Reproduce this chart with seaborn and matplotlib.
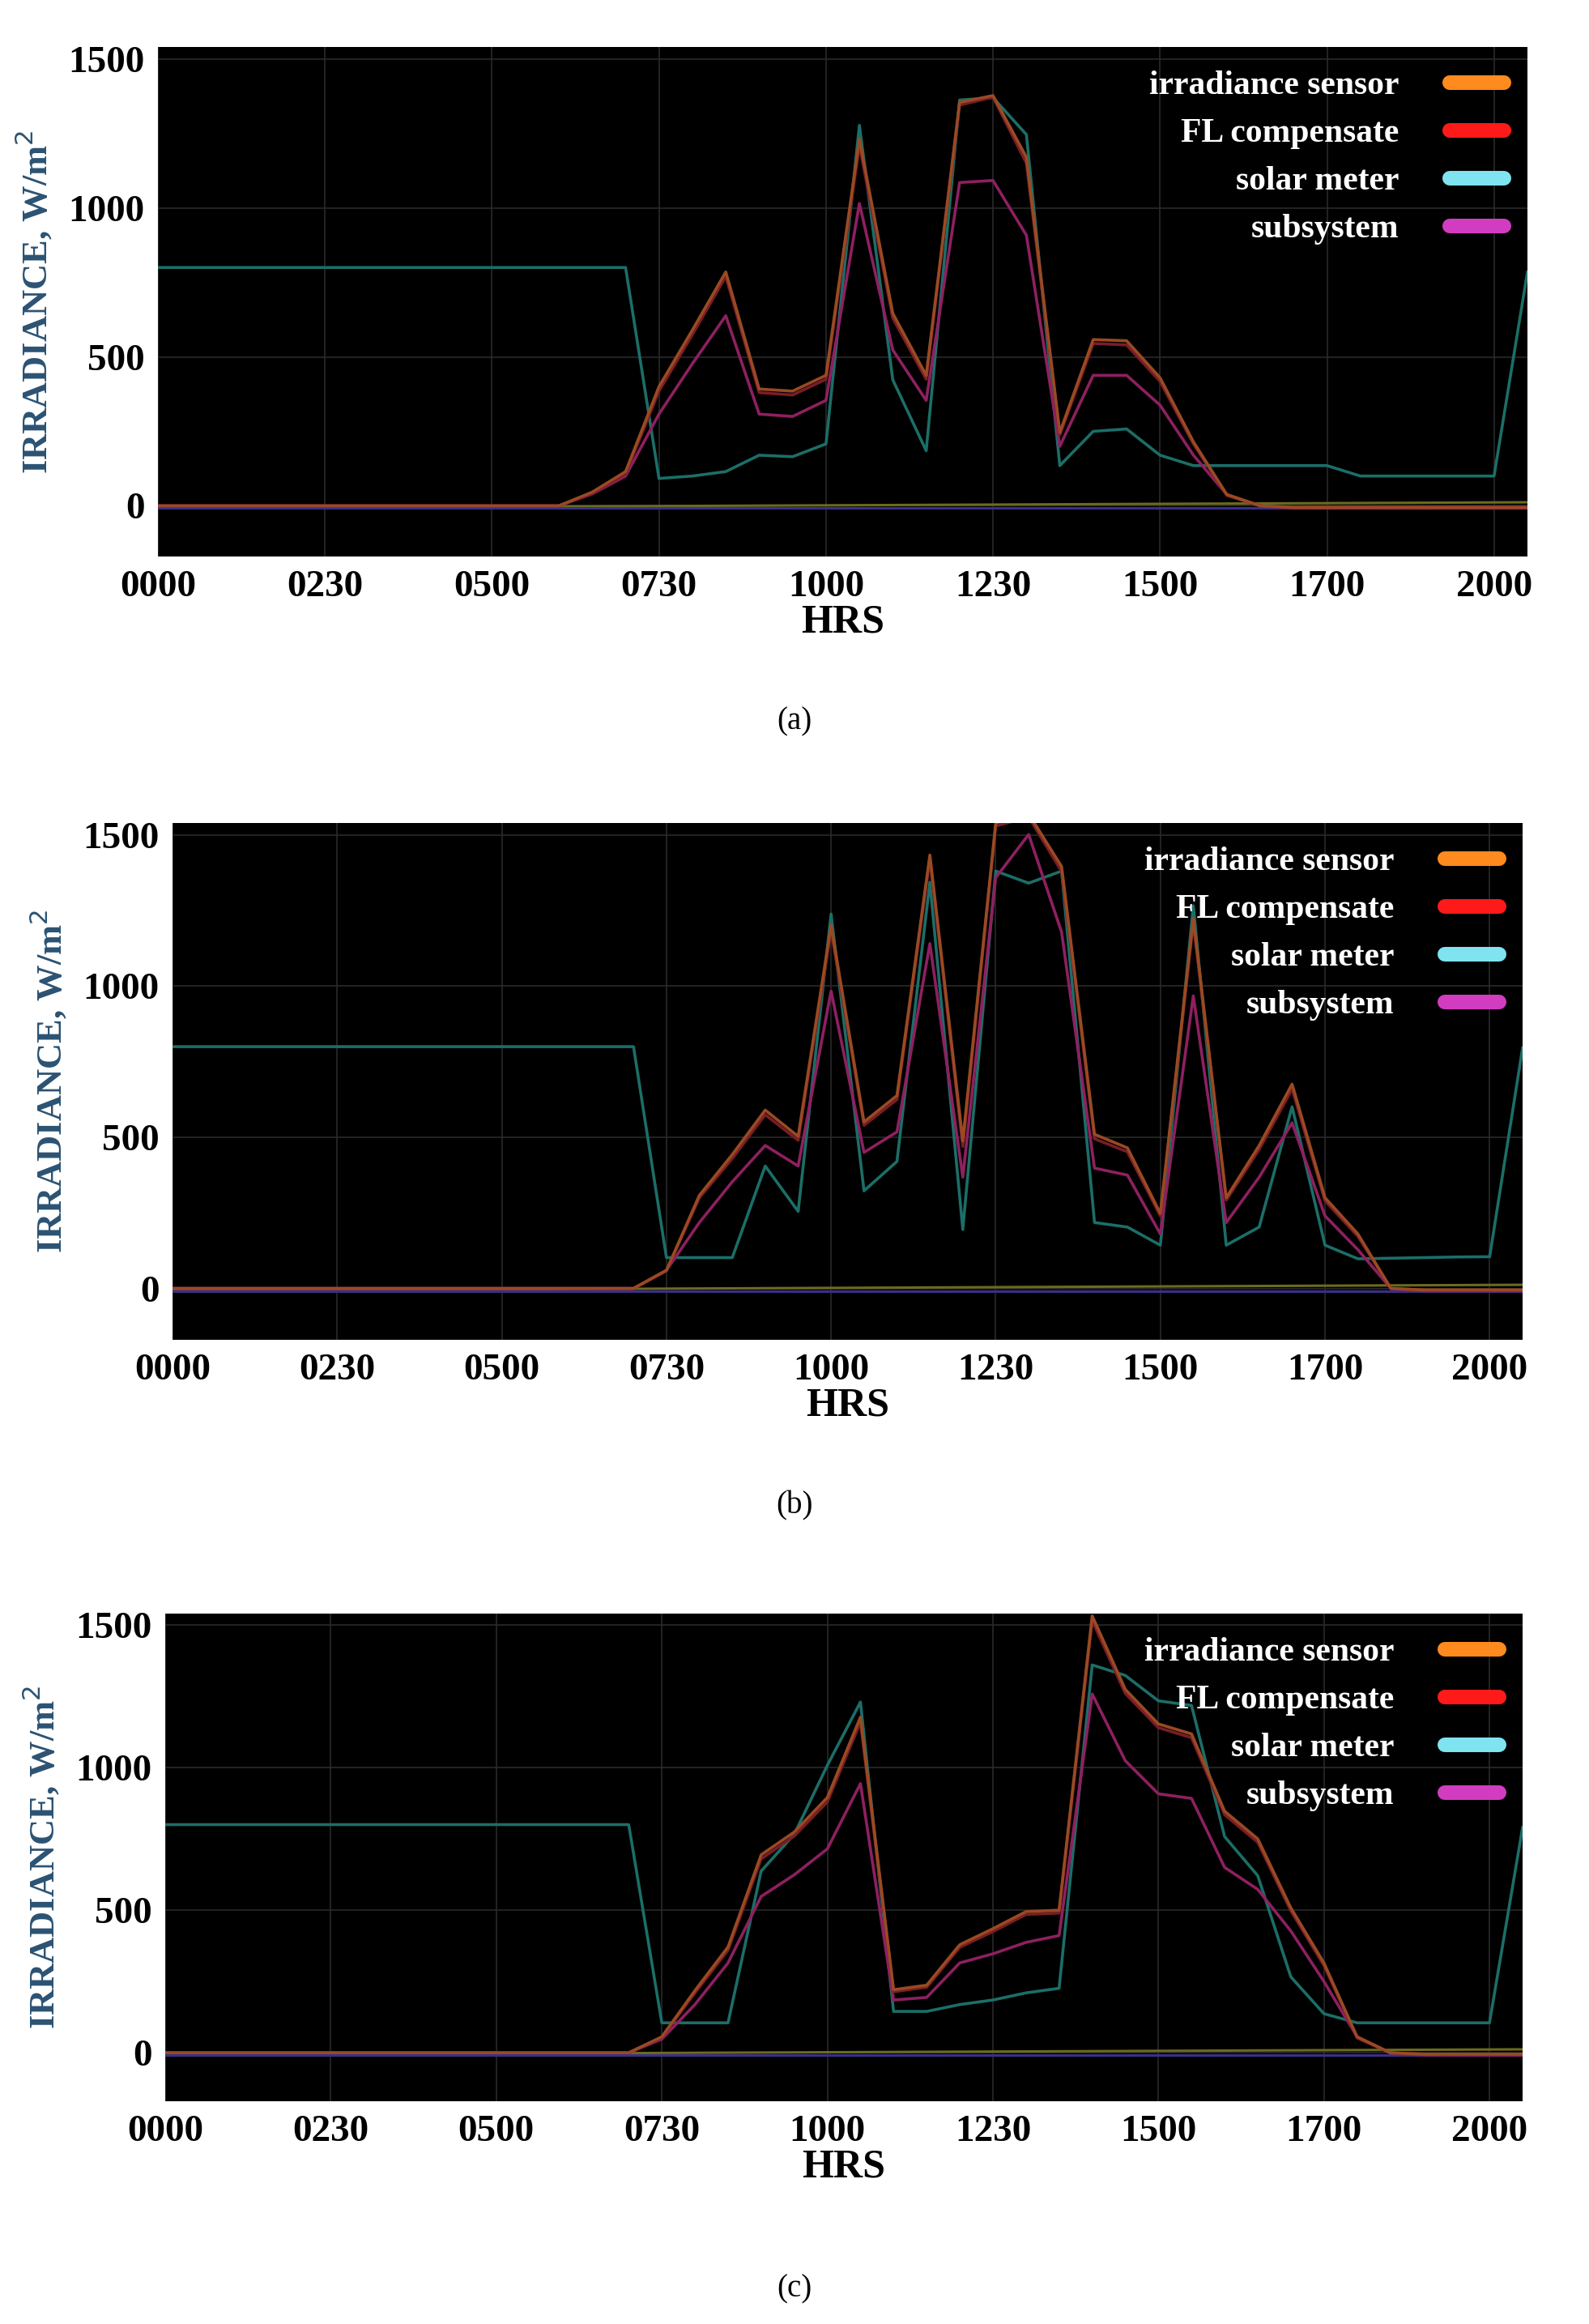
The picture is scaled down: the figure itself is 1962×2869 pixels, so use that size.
import numpy as np
import pandas as pd
import matplotlib
matplotlib.use("Agg")
import matplotlib.pyplot as plt
import seaborn as sns
from matplotlib.lines import Line2D

# ---------------- data ----------------
tick_labels = ["0000", "0230", "0500", "0730", "1000", "1230", "1500", "1700", "2000"]
series_names = ["irradiance sensor", "FL compensate", "solar meter", "subsystem"]

night = [800] * 15
# panel (a)
a_solar = night + [92, 100, 115, 170, 165, 208, 1277, 423, 185, 1362, 1370, 1246, 135, 250, 258,
                   170, 135, 135, 135, 135, 135, 100, 100, 100, 100, 100, 785]
a_sensor = [0] * 13 + [46, 115, 400, 590, 785, 392, 385, 438, 1230, 646, 438, 1354, 1377, 1170, 246,
                       558, 554, 430, 215, 38, 0] + [-5] * 8
a_fl = [0] * 13 + [42, 108, 385, 575, 770, 380, 372, 425, 1210, 630, 425, 1345, 1372, 1150, 238,
                   545, 540, 418, 208, 35, 0] + [-5] * 8
a_sub = [0] * 13 + [40, 100, 308, 477, 638, 308, 300, 354, 1015, 523, 354, 1085, 1092, 908, 200,
                    438, 438, 338, 170, 38, 0] + [-8] * 8
# panel (b)
b_solar = night + [102, 102, 102, 405, 255, 1239, 323, 420, 1344, 195, 1381, 1341, 1381, 218, 203,
                   143, 1266, 143, 203, 601, 143, 98, 100, 102, 104, 105, 796]
b_sensor = [0] * 15 + [60, 308, 443, 590, 503, 1201, 551, 638, 1434, 488, 1540, 1570, 1396, 510, 465,
                       248, 1224, 300, 473, 676, 300, 180, 0] + [-5] * 4
b_fl = [0] * 15 + [58, 300, 430, 575, 490, 1185, 540, 625, 1420, 470, 1530, 1560, 1380, 495, 452,
                   240, 1210, 292, 460, 660, 290, 172, 0] + [-5] * 4
b_sub = [0] * 15 + [60, 218, 353, 473, 405, 984, 450, 518, 1141, 368, 1359, 1502, 1179, 398, 375,
                    180, 968, 218, 368, 548, 240, 128, 0] + [-8] * 4
# panel (c)
c_solar = night + [105, 105, 105, 637, 766, 1008, 1230, 145, 145, 169, 185, 210, 226, 1360, 1323,
                   1234, 1218, 758, 621, 266, 137, 105, 105, 105, 105, 105, 790]
c_sensor = [0] * 15 + [56, 218, 371, 694, 774, 895, 1177, 221, 237, 379, 435, 495, 500, 1532, 1274,
                       1153, 1118, 847, 750, 508, 315, 56, 0] + [-5] * 4
c_fl = [0] * 15 + [54, 210, 360, 680, 760, 880, 1160, 214, 230, 370, 425, 485, 490, 1515, 1260,
                   1140, 1105, 835, 738, 498, 306, 52, 0] + [-5] * 4
c_sub = [0] * 15 + [48, 169, 315, 548, 624, 715, 944, 185, 194, 315, 347, 387, 411, 1258, 1024,
                    908, 892, 650, 573, 427, 250, 56, 0] + [-8] * 4

base_x = [0, 8.2]
olive_base = [-8, 12]
blue_base = [-8, -8]

panels = [("(a)", a_sensor, a_fl, a_solar, a_sub),
          ("(b)", b_sensor, b_fl, b_solar, b_sub),
          ("(c)", c_sensor, c_fl, c_solar, c_sub)]

line_colors = {"irradiance sensor": "#9a4a22", "FL compensate": "#7a1d28",
               "solar meter": "#1c6e68", "subsystem": "#8e2060"}
legend_colors = ["#ff8a1e", "#ff1a1a", "#7fe3f0", "#d23cc0"]

# ---------------- figure ----------------
W, H = 1962, 2869
fig = plt.figure(figsize=(W / 100, H / 100), dpi=100)
fig.patch.set_facecolor("white")
boxes = [(195, 58, 1886, 687), (213, 1016, 1880, 1654), (204, 1992, 1880, 2594)]
label_y = [891, 1859, 2826]
serif = "Liberation Serif"

for (tag, sen, fl, sol, sub), (l, t, r, b), ly in zip(panels, boxes, label_y):
    ax = fig.add_axes([l / W, 1 - b / H, (r - l) / W, (b - t) / H])
    ax.set_facecolor("black")
    n = len(sol)
    x = np.arange(n) * 0.2
    df = pd.DataFrame({"x": np.tile(x, 4),
                       "val": np.concatenate([sen, fl, sol, sub]),
                       "series": np.repeat(series_names, n)})
    ax.plot(base_x, olive_base, color="#6b6b1e", lw=2.2)
    ax.plot(base_x, blue_base, color="#3a2f8a", lw=2.2)
    sns.lineplot(data=df, x="x", y="val", hue="series", palette=line_colors,
                 hue_order=["solar meter", "subsystem", "FL compensate", "irradiance sensor"],
                 linewidth=2.6, legend=False, ax=ax, sort=False)
    ax.set_xlim(0, 8.2)
    ax.set_ylim(-170, 1540)
    ax.set_xticks(range(9))
    ax.set_xticklabels(tick_labels, fontfamily=serif, fontweight="bold", fontsize=34)
    ax.set_yticks([0, 500, 1000, 1500])
    ax.set_yticklabels(["0", "500", "1000", "1500"], fontfamily=serif, fontweight="bold", fontsize=34)
    ax.tick_params(length=0, pad=12)
    ax.grid(True, color="#2a2a2a", lw=1.2)
    for s in ax.spines.values():
        s.set_visible(False)
    ax.set_xlabel("HRS", fontfamily=serif, fontweight="bold", fontsize=36, labelpad=0)
    ax.set_ylabel("IRRADIANCE, W/m$^2$", fontfamily=serif, fontweight="bold", fontsize=32,
                  color="#2b5273", labelpad=12)
    handles = [Line2D([0], [0], color=c, lw=13, solid_capstyle="round") for c in legend_colors]
    ax.legend(handles, series_names, loc="upper right", frameon=False, markerfirst=False,
              prop={"family": serif, "weight": "bold", "size": 30}, labelcolor="white",
              handlelength=1.6, labelspacing=0.5, borderaxespad=0.3, handletextpad=1.5)
    fig.text(0.5, 1 - ly / H, tag, ha="center", va="center", fontfamily=serif, fontsize=28)

fig.savefig("out.png", dpi=100, facecolor="white")
